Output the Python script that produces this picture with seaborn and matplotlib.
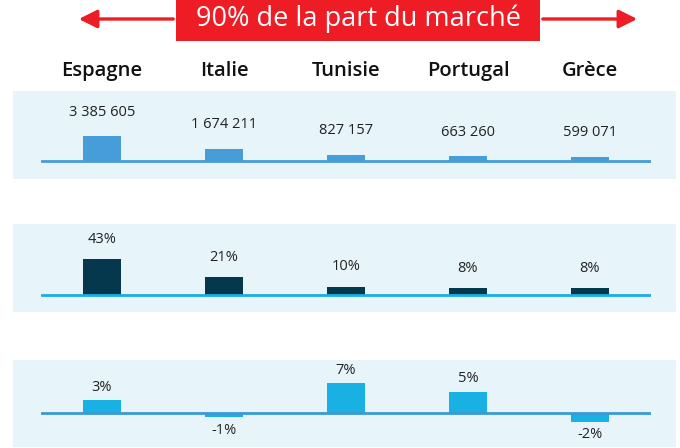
import matplotlib
matplotlib.use("Agg")
import matplotlib.pyplot as plt
from matplotlib.patches import Rectangle, FancyArrowPatch
import seaborn as sns
import pandas as pd

countries = ["Espagne", "Italie", "Tunisie", "Portugal", "Grèce"]
volumes = [3385605, 1674211, 827157, 663260, 599071]
volume_labels = ["3 385 605", "1 674 211", "827 157", "663 260", "599 071"]
shares = [43, 21, 10, 8, 8]
growth = [3, -1, 7, 5, -2]
title = "90% de la part du marché"

sns.set_theme(style="white")
plt.rcParams["font.family"] = ["Open Sans", "DejaVu Sans"]

W, H = 680, 448
fig = plt.figure(figsize=(W / 100, H / 100), dpi=100)
fig.patch.set_facecolor("white")

RED = "#ee1c25"
PANEL = "#e7f4fa"

def fx(px):
    return px / W

def fy(py):
    return 1 - py / H

# title banner
fig.add_artist(Rectangle((fx(176), fy(41)), fx(540) - fx(176), fy(0) - fy(41),
                         transform=fig.transFigure, facecolor=RED, edgecolor="none"))
fig.text(fx(359), fy(19), title, color="white", fontsize=19.5,
         ha="center", va="center")
for x0, x1 in [(176, 76), (540, 640)]:
    fig.add_artist(FancyArrowPatch((fx(x0), fy(19)), (fx(x1), fy(19)),
                                   transform=fig.transFigure,
                                   arrowstyle="-|>,head_length=11,head_width=5.5",
                                   color=RED, lw=2.4, mutation_scale=1))

rows = [
    dict(top=91, bottom=179, base=161, vals=volumes, labels=volume_labels,
         bar="#469dd8", line="#469dd8", unit=25 / 3385605, off=24),
    dict(top=224, bottom=312, base=295, vals=shares, labels=[f"{v}%" for v in shares],
         bar="#06384d", line="#1aaee5", unit=36 / 43, off=20),
    dict(top=360, bottom=447, base=413, vals=growth, labels=[f"{v}%" for v in growth],
         bar="#19b0e3", line="#3a9ad6", unit=30 / 7, off=13),
]

ax_left, ax_right = 41, 651
for i, r in enumerate(rows):
    fig.add_artist(Rectangle((fx(13), fy(r["bottom"])), fx(676) - fx(13),
                             fy(r["top"]) - fy(r["bottom"]),
                             transform=fig.transFigure, facecolor=PANEL,
                             edgecolor="none", zorder=0))
    ax = fig.add_axes([fx(ax_left), fy(r["bottom"]), fx(ax_right) - fx(ax_left),
                       fy(r["top"]) - fy(r["bottom"])])
    ax.patch.set_alpha(0)
    df = pd.DataFrame({"pays": countries, "v": r["vals"]})
    sns.barplot(data=df, x="pays", y="v", ax=ax, color=r["bar"], width=0.31,
                saturation=1, edgecolor="none", zorder=2)
    ax.set_xlim(-0.5, 4.5)
    u = r["unit"]
    ax.set_ylim(-(r["bottom"] - r["base"]) / u, (r["base"] - r["top"]) / u)
    ax.axhline(0, color=r["line"], lw=2, zorder=3)
    for j, (v, lab) in enumerate(zip(r["vals"], r["labels"])):
        sign = 1 if v >= 0 else -1
        ax.annotate(lab, (j, v), xytext=(0, sign * r["off"] * 0.72),
                    textcoords="offset points", ha="center", va="center",
                    fontsize=10.5, color="#222222")
    for s in ax.spines.values():
        s.set_visible(False)
    ax.set_ylabel("")
    ax.set_yticks([])
    if i == 0:
        ax.xaxis.tick_top()
        ax.set_xlabel("")
        ax.tick_params(axis="x", length=0, pad=7, labelsize=14.5)
        for t in ax.get_xticklabels():
            t.set_fontweight("semibold")
            t.set_color("#111111")
    else:
        ax.set_xticks([])
        ax.set_xlabel("")

fig.savefig("out.png", dpi=100)
